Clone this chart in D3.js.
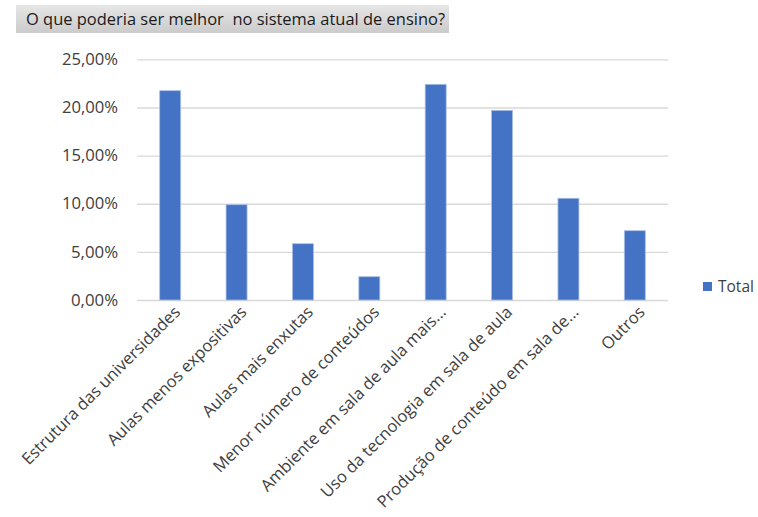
<!DOCTYPE html>
<html>
<head>
<meta charset="utf-8">
<script src="https://cdn.jsdelivr.net/npm/d3@7"></script>
<style>
  html, body { margin: 0; padding: 0; background: #ffffff; }
  svg { display: block; }
</style>
</head>
<body>
<svg id="chart" width="758" height="517"></svg>
<script>
const title = "O que poderia ser melhor  no sistema atual de ensino?";
const categories = [
  "Estrutura das universidades",
  "Aulas menos expositivas",
  "Aulas mais enxutas",
  "Menor número de conteúdos",
  "Ambiente em sala de aula mais...",
  "Uso da tecnologia em sala de aula",
  "Produção de conteúdo em sala de...",
  "Outros"
];
const values = [0.2175, 0.099, 0.0585, 0.0242, 0.2241, 0.197, 0.1057, 0.072];
const yTicks = [0, 0.05, 0.10, 0.15, 0.20, 0.25];
const seriesName = "Total";

const svg = d3.select("#chart");
const FONT = "'Open Sans', 'DejaVu Sans', sans-serif";

// title box
const defs = svg.append("defs");
const grad = defs.append("linearGradient").attr("id", "tg").attr("x1", 0).attr("y1", 0).attr("x2", 0).attr("y2", 1);
grad.append("stop").attr("offset", "0%").attr("stop-color", "#e6e6e6");
grad.append("stop").attr("offset", "100%").attr("stop-color", "#cbcbcb");
svg.append("rect").attr("x", 16).attr("y", 5).attr("width", 433).attr("height", 28).attr("fill", "url(#tg)");
svg.append("text").attr("x", 26).attr("y", 25)
  .attr("font-family", FONT).attr("font-size", 16.4).attr("fill", "#1a1a1a")
  .attr("textLength", 419).attr("lengthAdjust", "spacingAndGlyphs")
  .style("white-space", "pre").text(title);

const x = d3.scaleBand().domain(categories).range([137, 668]).paddingInner(0.684).paddingOuter(0.342);
const y = d3.scaleLinear().domain([0, 0.25]).range([300, 59.4]);

const fmt = v => d3.format(".2f")(v * 100).replace(".", ",") + "%";

// gridlines + y axis
const yAxis = d3.axisLeft(y).tickValues(yTicks).tickSize(-(668 - 137)).tickFormat(fmt).tickPadding(19);
const gy = svg.append("g").attr("transform", "translate(137,0)").call(yAxis);
gy.select(".domain").remove();
gy.selectAll(".tick line").attr("stroke", "#d9d9d9").attr("stroke-width", 1.3);
gy.selectAll(".tick text").attr("font-family", FONT).attr("font-size", 16).attr("fill", "#404040")
  .attr("textLength", 56).attr("lengthAdjust", "spacingAndGlyphs")
  .each(function(d) { if (d < 0.1) d3.select(this).attr("textLength", 47); });

// bars
svg.append("g").selectAll("rect").data(values).join("rect")
  .attr("x", (d, i) => x(categories[i]))
  .attr("width", x.bandwidth())
  .attr("y", d => y(d))
  .attr("height", d => y(0) - y(d))
  .attr("fill", "#4472c4")
  .attr("stroke", "#a9bfe6").attr("stroke-width", 0.8);

// category labels
svg.append("g").selectAll("text").data(categories).join("text")
  .attr("transform", d => `translate(${x(d) + x.bandwidth() / 2 + 7},${309}) rotate(-45)`)
  .attr("text-anchor", "end")
  .attr("dy", "0.35em")
  .attr("font-family", FONT).attr("font-size", 16.6).attr("fill", "#404040")
  .text(d => d);

// legend
const lg = svg.append("g").attr("transform", "translate(703,282)");
lg.append("rect").attr("width", 9).attr("height", 9).attr("fill", "#4472c4");
lg.append("text").attr("x", 15).attr("y", 9.5)
  .attr("font-family", FONT).attr("font-size", 15.5).attr("fill", "#404040").text(seriesName);
</script>
</body>
</html>
